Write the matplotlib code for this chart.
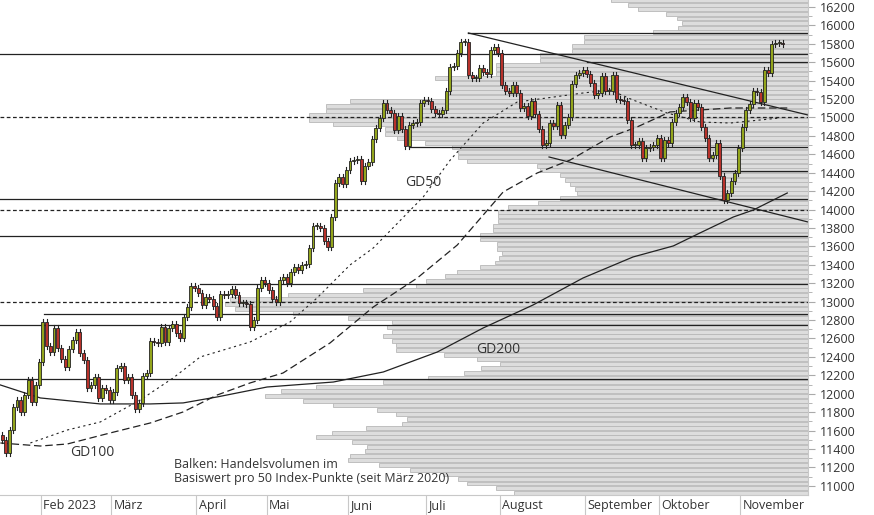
import numpy as np
import matplotlib
matplotlib.use("Agg")
import matplotlib.pyplot as plt
import matplotlib.transforms as mtransforms

plt.rcParams['font.family'] = ['Open Sans', 'DejaVu Sans']

# daily closes (trading day index 0 = mid January 2023)
closes = [11498, 11356, 11606, 11856, 11932, 11802, 11986, 12149, 11910, 12095,
          12345, 12779, 12519, 12453, 12714, 12497, 12377, 12290, 12486, 12584,
          12671, 12442, 12366, 12062, 12095, 12182, 11954, 12062, 12040, 11932,
          12019, 12280, 12301, 12149, 12182, 11986, 11834, 11899, 12193, 12225,
          12573, 12562, 12551, 12725, 12562, 12714, 12757, 12660, 12605, 12834,
          12942, 13170, 13148, 13094, 12964, 13051, 13029, 12953, 12834, 13083,
          13072, 13083, 13137, 13072, 12985, 12985, 12975, 12725, 12801, 13148,
          13235, 13203, 13127, 13029, 12996, 13235, 13268, 13203, 13322, 13376,
          13344, 13398, 13409, 13583, 13822, 13822, 13800, 13659, 13594, 13919,
          14289, 14354, 14278, 14430, 14528, 14538, 14549, 14310, 14473, 14517,
          14766, 14886, 14995, 15157, 15081, 15049, 14864, 15016, 14875, 14690,
          14919, 14940, 14951, 15157, 15190, 15179, 15092, 15049, 15038, 15081,
          15288, 15548, 15559, 15700, 15820, 15820, 15462, 15429, 15429, 15538,
          15494, 15472, 15733, 15766, 15700, 15353, 15288, 15266, 15353, 15266,
          15103, 15125, 15016, 15179, 15038, 14875, 14701, 14723, 14940, 14908,
          15136, 14810, 14919, 15005, 15364, 15462, 15483, 15516, 15472, 15375,
          15244, 15266, 15451, 15288, 15288, 15462, 15201, 15190, 15179, 14973,
          14701, 14701, 14745, 14560, 14669, 14680, 14701, 14777, 14560, 14756,
          14723, 14951, 15049, 15114, 15223, 15168, 14995, 15157, 15114, 14897,
          14777, 14560, 14593, 14723, 14365, 14104, 14180, 14310, 14397, 14669,
          14897, 15081, 15147, 15288, 15277, 15168, 15516, 15483, 15798, 15809,
          15809, 15798]
first_open = 11550

# moving averages, read at a few trading-day positions
gd50_x = [7.6, 17.6, 26.5, 37.3, 46.2, 53.5, 67, 77.8, 85.1, 94, 100.3, 113.8, 121.1,
          130, 139.2, 157, 164.3, 170.5, 179.7, 188.6, 196.8, 210.3]
gd50_y = [11465, 11606, 11693, 11932, 12171, 12399, 12562, 12779, 13040, 13398, 13583,
          14137, 14538, 14940, 15168, 15266, 15299, 15190, 15049, 14951, 14940, 14995]
gd100_x = [-0.5, 10.3, 17.6, 29.2, 40, 48.9, 58.1, 67, 75.9, 88.6, 100.3, 112.2, 123,
           135.4, 144.6, 153.5, 164.3, 171.6, 180.5, 196.8, 212.2]
gd100_y = [11465, 11432, 11454, 11574, 11682, 11802, 11986, 12117, 12225, 12551, 12942,
           13257, 13615, 14191, 14397, 14538, 14788, 14897, 15060, 15103, 15103]
gd200_x = [-0.5, 10.3, 26.5, 40, 48.9, 58.1, 71.6, 89.5, 103, 117.6, 130, 143.5, 157,
           170.5, 181.4, 188.6, 197.6, 203, 212.2]
gd200_y = [12095, 11954, 11889, 11889, 11900, 11965, 12073, 12127, 12236, 12453, 12714,
           12964, 13257, 13485, 13605, 13746, 13919, 13995, 14180]

# volume profile per 50 index points (relative), top bin centre 16275
vol_top = 16275
volume = [197, 180, 170, 142, 131, 126, 130, 155, 224, 224, 236, 236, 268, 268, 312, 312,
          312, 373, 360, 360, 360, 360, 458, 482, 482, 499, 499, 475, 423, 423, 411, 383,
          356, 350, 350, 341, 271, 268, 248, 243, 238, 233, 231, 248, 270, 300, 310, 310,
          310, 315, 315, 328, 328,
          311, 311, 306, 309, 313, 328, 351, 363, 382, 392, 445, 520, 578, 583, 573, 515,
          460, 416, 421, 416, 425, 416, 412, 412, 364, 331, 308, 327, 344, 380, 425, 492,
          527, 543, 505, 475, 431, 412, 401, 406, 442, 476, 492, 456, 441, 443, 458, 460,
          429, 398, 365, 350, 341, 312, 294]

full_lines = [15690, 14115, 13713, 12747, 12160]
part_lines = [(15918, 126), (15600, 158), (14680, 110), (14420, 175), (13192, 53.5), (12866, 11.4)]
dash_lines = [15000, 14000, 13000]
trend_upper = ([126, 217.8], [15918, 15027])
trend_lower = ([147.8, 217.8], [14571, 13865])

month_start = [11, 30, 53, 72, 94, 115, 135, 158, 178, 200]
month_names = ['Feb 2023', 'März', 'April', 'Mai', 'Juni', 'Juli', 'August',
               'September', 'Oktober', 'November']

xmin, xmax = -0.6, 217.8
ymin, ymax = 10900, 16276

fig = plt.figure(figsize=(8.74, 5.15), dpi=100)
ax = fig.add_axes([0, 20 / 515, 808 / 874, 495 / 515])
axv = ax.twiny()

# volume bars
centers = vol_top - 50 * np.arange(len(volume))
axv.barh(centers, volume, height=43, left=0, color='#dddddd', edgecolor='#b8b8b8', lw=0.6)
axv.set_xlim(808, 0)
axv.axis('off')
ax.set_zorder(axv.get_zorder() + 1)
ax.patch.set_visible(False)

# lines
for y in full_lines:
    ax.plot([xmin, xmax], [y, y], color='#222222', lw=0.9)
for y, x0 in part_lines:
    ax.plot([x0, xmax], [y, y], color='#222222', lw=0.9)
for y in dash_lines:
    ax.plot([xmin, xmax], [y, y], color='#222222', lw=0.9, ls=(0, (3, 2)))
ax.plot(*trend_upper, color='#222222', lw=0.9)
ax.plot(*trend_lower, color='#222222', lw=0.9)

ax.plot(gd50_x, gd50_y, color='#222222', lw=0.8, ls=(0, (2, 3)))
ax.plot(gd100_x, gd100_y, color='#222222', lw=0.9, ls=(0, (6, 3)))
ax.plot(gd200_x, gd200_y, color='#222222', lw=0.9)

# candles
opens = [first_open] + closes[:-1]
for i, (o, c) in enumerate(zip(opens, closes)):
    lo, hi = min(o, c), max(o, c)
    ax.plot([i, i], [lo - 35, hi + 35], color='#222222', lw=0.8, zorder=3)
    col = '#93a51c' if c >= o else '#b8322b'
    h = max(hi - lo, 12)
    ax.add_patch(plt.Rectangle((i - 0.4, lo), 0.8, h, facecolor=col,
                               edgecolor='#222222', lw=0.6, zorder=4))

ax.text(109, 14289, 'GD50', fontsize=10, color='#333333', va='center')
ax.text(18.4, 11357, 'GD100', fontsize=10, color='#333333', va='center')
ax.text(128, 12475, 'GD200', fontsize=10, color='#333333', va='center')
ax.text(46.5, 11300, 'Balken: Handelsvolumen im\nBasiswert pro 50 Index-Punkte (seit März 2020)',
        fontsize=9, color='#333333', va='top', linespacing=1.1)

ax.set_xlim(xmin, xmax)
ax.set_ylim(ymin, ymax)
for s in ['top', 'left']:
    ax.spines[s].set_visible(False)
for s in ['bottom', 'right']:
    ax.spines[s].set_color('#c8c8c8')
ax.yaxis.tick_right()
ax.set_yticks(np.arange(11000, 16201, 200))
ax.set_yticks(np.arange(11000, 16201, 100), minor=True)
ax.tick_params(axis='y', which='major', length=5, color='#aaaaaa', labelsize=9, labelcolor='#333333')
ax.tick_params(axis='y', which='minor', length=3, color='#aaaaaa')
seps = [m - 0.5 for m in month_start]
ax.set_xticks(seps)
ax.set_xticklabels([])
ax.tick_params(axis='x', length=15, color='#c8c8c8')
trans = mtransforms.blended_transform_factory(ax.transData, ax.transAxes)
for s, name in zip(seps, month_names):
    ax.text(s + 0.6, -0.022, name, transform=trans, fontsize=9, color='#333333', va='center')

fig.savefig('out.png', dpi=100)
